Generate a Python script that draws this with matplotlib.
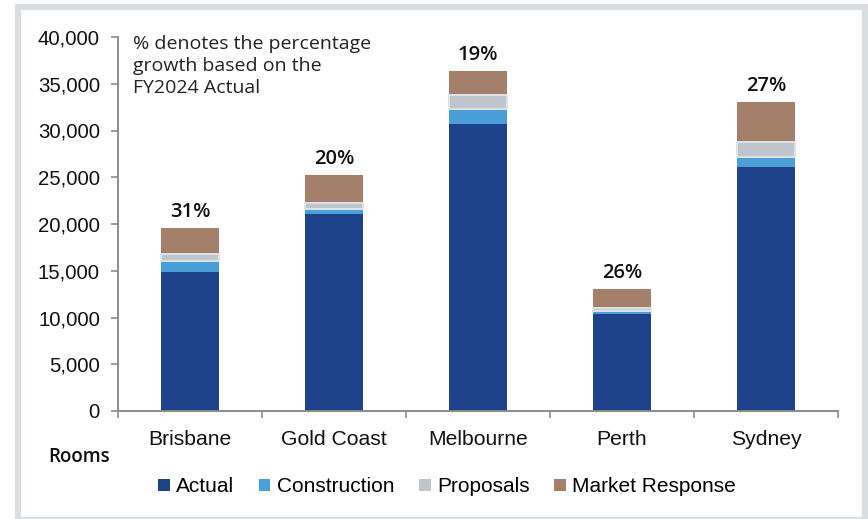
import matplotlib
import numpy as np

matplotlib.use("Agg")
import matplotlib.pyplot as plt
from matplotlib.patches import Patch, Rectangle

cities = ["Brisbane", "Gold Coast", "Melbourne", "Perth", "Sydney"]
actual = [14900, 21040, 30660, 10340, 26060]
construction = [1140, 600, 1640, 320, 1070]
proposals = [720, 570, 1500, 320, 1670]
market_response = [2780, 3060, 2600, 2060, 4250]
growth_labels = ["31%", "20%", "19%", "26%", "27%"]

series = [
    ("Actual", actual, "#1d4289"),
    ("Construction", construction, "#4a9fd8"),
    ("Proposals", proposals, "#bec5cc"),
    ("Market Response", market_response, "#a47f69"),
]

W, H = 868, 519
fig = plt.figure(figsize=(W / 100, H / 100), dpi=100)
ax = fig.add_axes([118 / W, 1 - 411 / H, 720 / W, 374 / H])

tick_font = "Liberation Sans"
label_font = "Open Sans"
axis_grey = "#8c8c8c"

x = np.arange(len(cities))
bottom = np.zeros(len(cities))
for name, vals, colour in series:
    vals = np.asarray(vals, dtype=float)
    if name == "Proposals":
        ax.bar(x, vals, 0.4, bottom=bottom, color=colour,
               edgecolor="#dfe3e6", linewidth=1.4, zorder=3)
    else:
        ax.bar(x, vals, 0.4, bottom=bottom, color=colour,
               linewidth=0, zorder=2)
    bottom += vals

for xi, total, lab in zip(x, bottom, growth_labels):
    ax.annotate(lab, (xi, total), xytext=(0, 8), textcoords="offset points",
                ha="center", va="baseline", fontsize=14.5,
                family=label_font, weight="semibold", color="#111111")

ax.set_xlim(-0.5, len(cities) - 0.5)
ax.set_ylim(0, 40000)
ax.set_yticks(np.arange(0, 40001, 5000))
ax.set_yticklabels([f"{v:,}" for v in range(0, 40001, 5000)],
                   family=tick_font, fontsize=14.7, color="#111111")
ax.set_xticks(x)
ax.set_xticklabels(cities, family=tick_font, fontsize=15.2, color="#111111")
ax.tick_params(axis="x", length=0, pad=14)
ax.set_xticks(np.arange(-0.5, len(cities)), minor=True)
ax.tick_params(axis="x", which="minor", length=5, direction="out",
               color=axis_grey, width=1.2)
ax.tick_params(axis="y", length=5, direction="out", color=axis_grey,
               width=1.2, pad=8)

for side in ("top", "right"):
    ax.spines[side].set_visible(False)
for side in ("left", "bottom"):
    ax.spines[side].set_color(axis_grey)
    ax.spines[side].set_linewidth(1.4)

fig.text(133 / W, 1 - 35 / H,
         "% denotes the percentage\ngrowth based on the\nFY2024 Actual",
         ha="left", va="top", fontsize=14, family=label_font,
         color="#222222", linespacing=1.28)

fig.text(48 / W, 1 - 457 / H, "Rooms", ha="left", va="center",
         fontsize=13.5, family=label_font, weight="semibold", color="#111111")

handles = [Patch(facecolor=c, edgecolor="none", label=n) for n, _, c in series]
fig.legend(handles=handles, loc="center", bbox_to_anchor=(447 / W, 1 - 487 / H),
           ncol=4, frameon=False, handlelength=0.55, handleheight=0.55,
           handletextpad=0.3, columnspacing=1.2,
           prop={"family": tick_font, "size": 15})

# light grey outer frame
fig.patches.append(Rectangle((18 / W, -1 / H), 847 / W, 513.5 / H,
                             transform=fig.transFigure, fill=False,
                             edgecolor="#d9dee1", linewidth=4.5))

fig.savefig("out.png", dpi=100)
